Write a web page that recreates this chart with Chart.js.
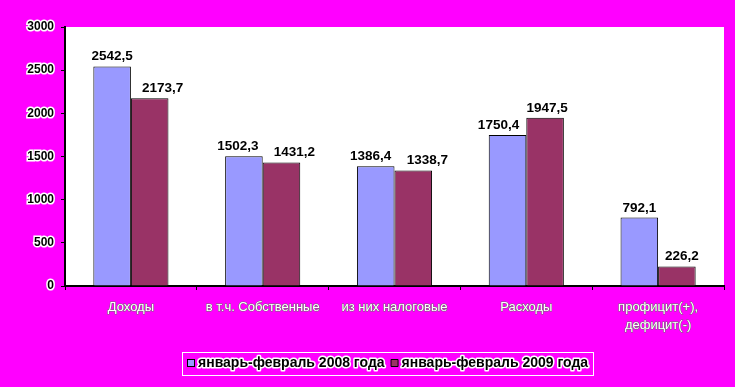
<!DOCTYPE html>
<html>
<head>
<meta charset="utf-8">
<script src="https://cdn.jsdelivr.net/npm/chart.js@4"></script>
<style>
	html, body { margin: 0; padding: 0; background: #FF00FF; }
	#wrap { width: 735px; height: 387px; }
</style>
</head>
<body>
<div id="wrap"><canvas id="budgetChart" width="735" height="387"></canvas></div>
<script>
// Budget data, Jan-Feb 2008 vs 2009
const categories = ['Доходы', 'в т.ч. Собственные', 'из них налоговые', 'Расходы', ['профицит(+),', 'дефицит(-)']];
const series2008 = [2542.5, 1502.3, 1386.4, 1750.4, 792.1];
const series2009 = [2173.7, 1431.2, 1338.7, 1947.5, 226.2];
const seriesNames = ['январь-февраль 2008 года', 'январь-февраль 2009 года'];
const yTicks = [0, 500, 1000, 1500, 2000, 2500, 3000];

// horizontal nudges of the value labels (the original spreads them apart)
const labelShift = [[0, 13], [-6, 13], [-5, 14], [-9, 2], [0, 5]];

const FONT = 'Arial, "Liberation Sans", sans-serif';

// white plot background
const plotBackground = {
	id: 'plotBackground',
	beforeDraw(chart) {
		const a = chart.chartArea;
		const ctx = chart.ctx;
		ctx.save();
		ctx.fillStyle = '#FFFFFF';
		ctx.fillRect(a.left, a.top, a.right - a.left, a.bottom - a.top);
		ctx.restore();
	}
};

// value labels above bars
const valueLabels = {
	id: 'valueLabels',
	afterDatasetsDraw(chart) {
		const ctx = chart.ctx;
		ctx.save();
		ctx.font = 'bold 13.5px ' + FONT;
		ctx.fillStyle = '#000000';
		ctx.textAlign = 'center';
		ctx.textBaseline = 'alphabetic';
		chart.data.datasets.forEach((ds, i) => {
			chart.getDatasetMeta(i).data.forEach((bar, j) => {
				const txt = ds.data[j].toFixed(1).replace('.', ',');
				ctx.fillText(txt, bar.x + labelShift[j][i], bar.y - 6);
			});
		});
		ctx.restore();
	}
};

// boxed legend at the bottom
const boxLegend = {
	id: 'boxLegend',
	afterDraw(chart) {
		const ctx = chart.ctx;
		const x0 = 182, y0 = 352, w = 411, h = 23;
		ctx.save();
		ctx.strokeStyle = '#FFFFFF';
		ctx.lineWidth = 1;
		ctx.strokeRect(x0 + 0.5, y0 + 0.5, w, h);
		ctx.font = 'bold 14px ' + FONT;
		ctx.textBaseline = 'middle';
		let x = x0 + 5;
		const cy = y0 + h / 2;
		chart.data.datasets.forEach(ds => {
			ctx.fillStyle = ds.backgroundColor;
			ctx.fillRect(x + 0.5, cy - 4, 7, 7);
			ctx.strokeStyle = '#000000';
			ctx.strokeRect(x + 0.5, cy - 4, 7, 7);
			x += 11;
			ctx.lineWidth = 3;
			ctx.lineJoin = 'round';
			ctx.strokeStyle = '#FFFFFF';
			ctx.strokeText(ds.label, x, cy);
			ctx.fillStyle = '#000000';
			ctx.fillText(ds.label, x, cy);
			ctx.lineWidth = 1;
			x += ctx.measureText(ds.label).width + 6;
		});
		ctx.restore();
	}
};

new Chart(document.getElementById('budgetChart'), {
	type: 'bar',
	data: {
		labels: categories,
		datasets: [
			{
				label: seriesNames[0],
				data: series2008,
				backgroundColor: '#9999FF',
				borderColor: '#000000',
				borderWidth: 1,
				categoryPercentage: 0.57,
				barPercentage: 1.0
			},
			{
				label: seriesNames[1],
				data: series2009,
				backgroundColor: '#993366',
				borderColor: '#000000',
				borderWidth: 1,
				categoryPercentage: 0.57,
				barPercentage: 1.0
			}
		]
	},
	options: {
		responsive: false,
		animation: false,
		devicePixelRatio: 1,
		layout: { padding: { top: 27, right: 11, left: 0, bottom: 0 } },
		plugins: {
			legend: { display: false },
			tooltip: { enabled: false }
		},
		scales: {
			x: {
				afterFit: s => { s.height = 101; },
				grid: {
					offset: true,
					drawOnChartArea: false,
					color: '#000000',
					tickLength: 4
				},
				border: { color: '#000000', width: 2 },
				ticks: {
					color: '#FFFFFF',
					textStrokeColor: '#707070',
					textStrokeWidth: 1,
					font: { family: FONT, size: 13, lineHeight: 1.4 },
					padding: 8,
					maxRotation: 0,
					autoSkip: false
				}
			},
			y: {
				min: 0,
				max: 3000,
				afterFit: s => { s.width = 65; },
				afterBuildTicks: s => { s.ticks = yTicks.map(v => ({ value: v })); },
				grid: {
					drawOnChartArea: false,
					color: '#000000',
					tickLength: 4
				},
				border: { color: '#000000', width: 2 },
				ticks: {
					color: '#000000',
					textStrokeColor: '#FFFFFF',
					textStrokeWidth: 3,
					font: { family: FONT, size: 12, weight: 'bold' },
					padding: 7,
					callback: v => String(v)
				}
			}
		}
	},
	plugins: [plotBackground, valueLabels, boxLegend]
});
</script>
</body>
</html>
